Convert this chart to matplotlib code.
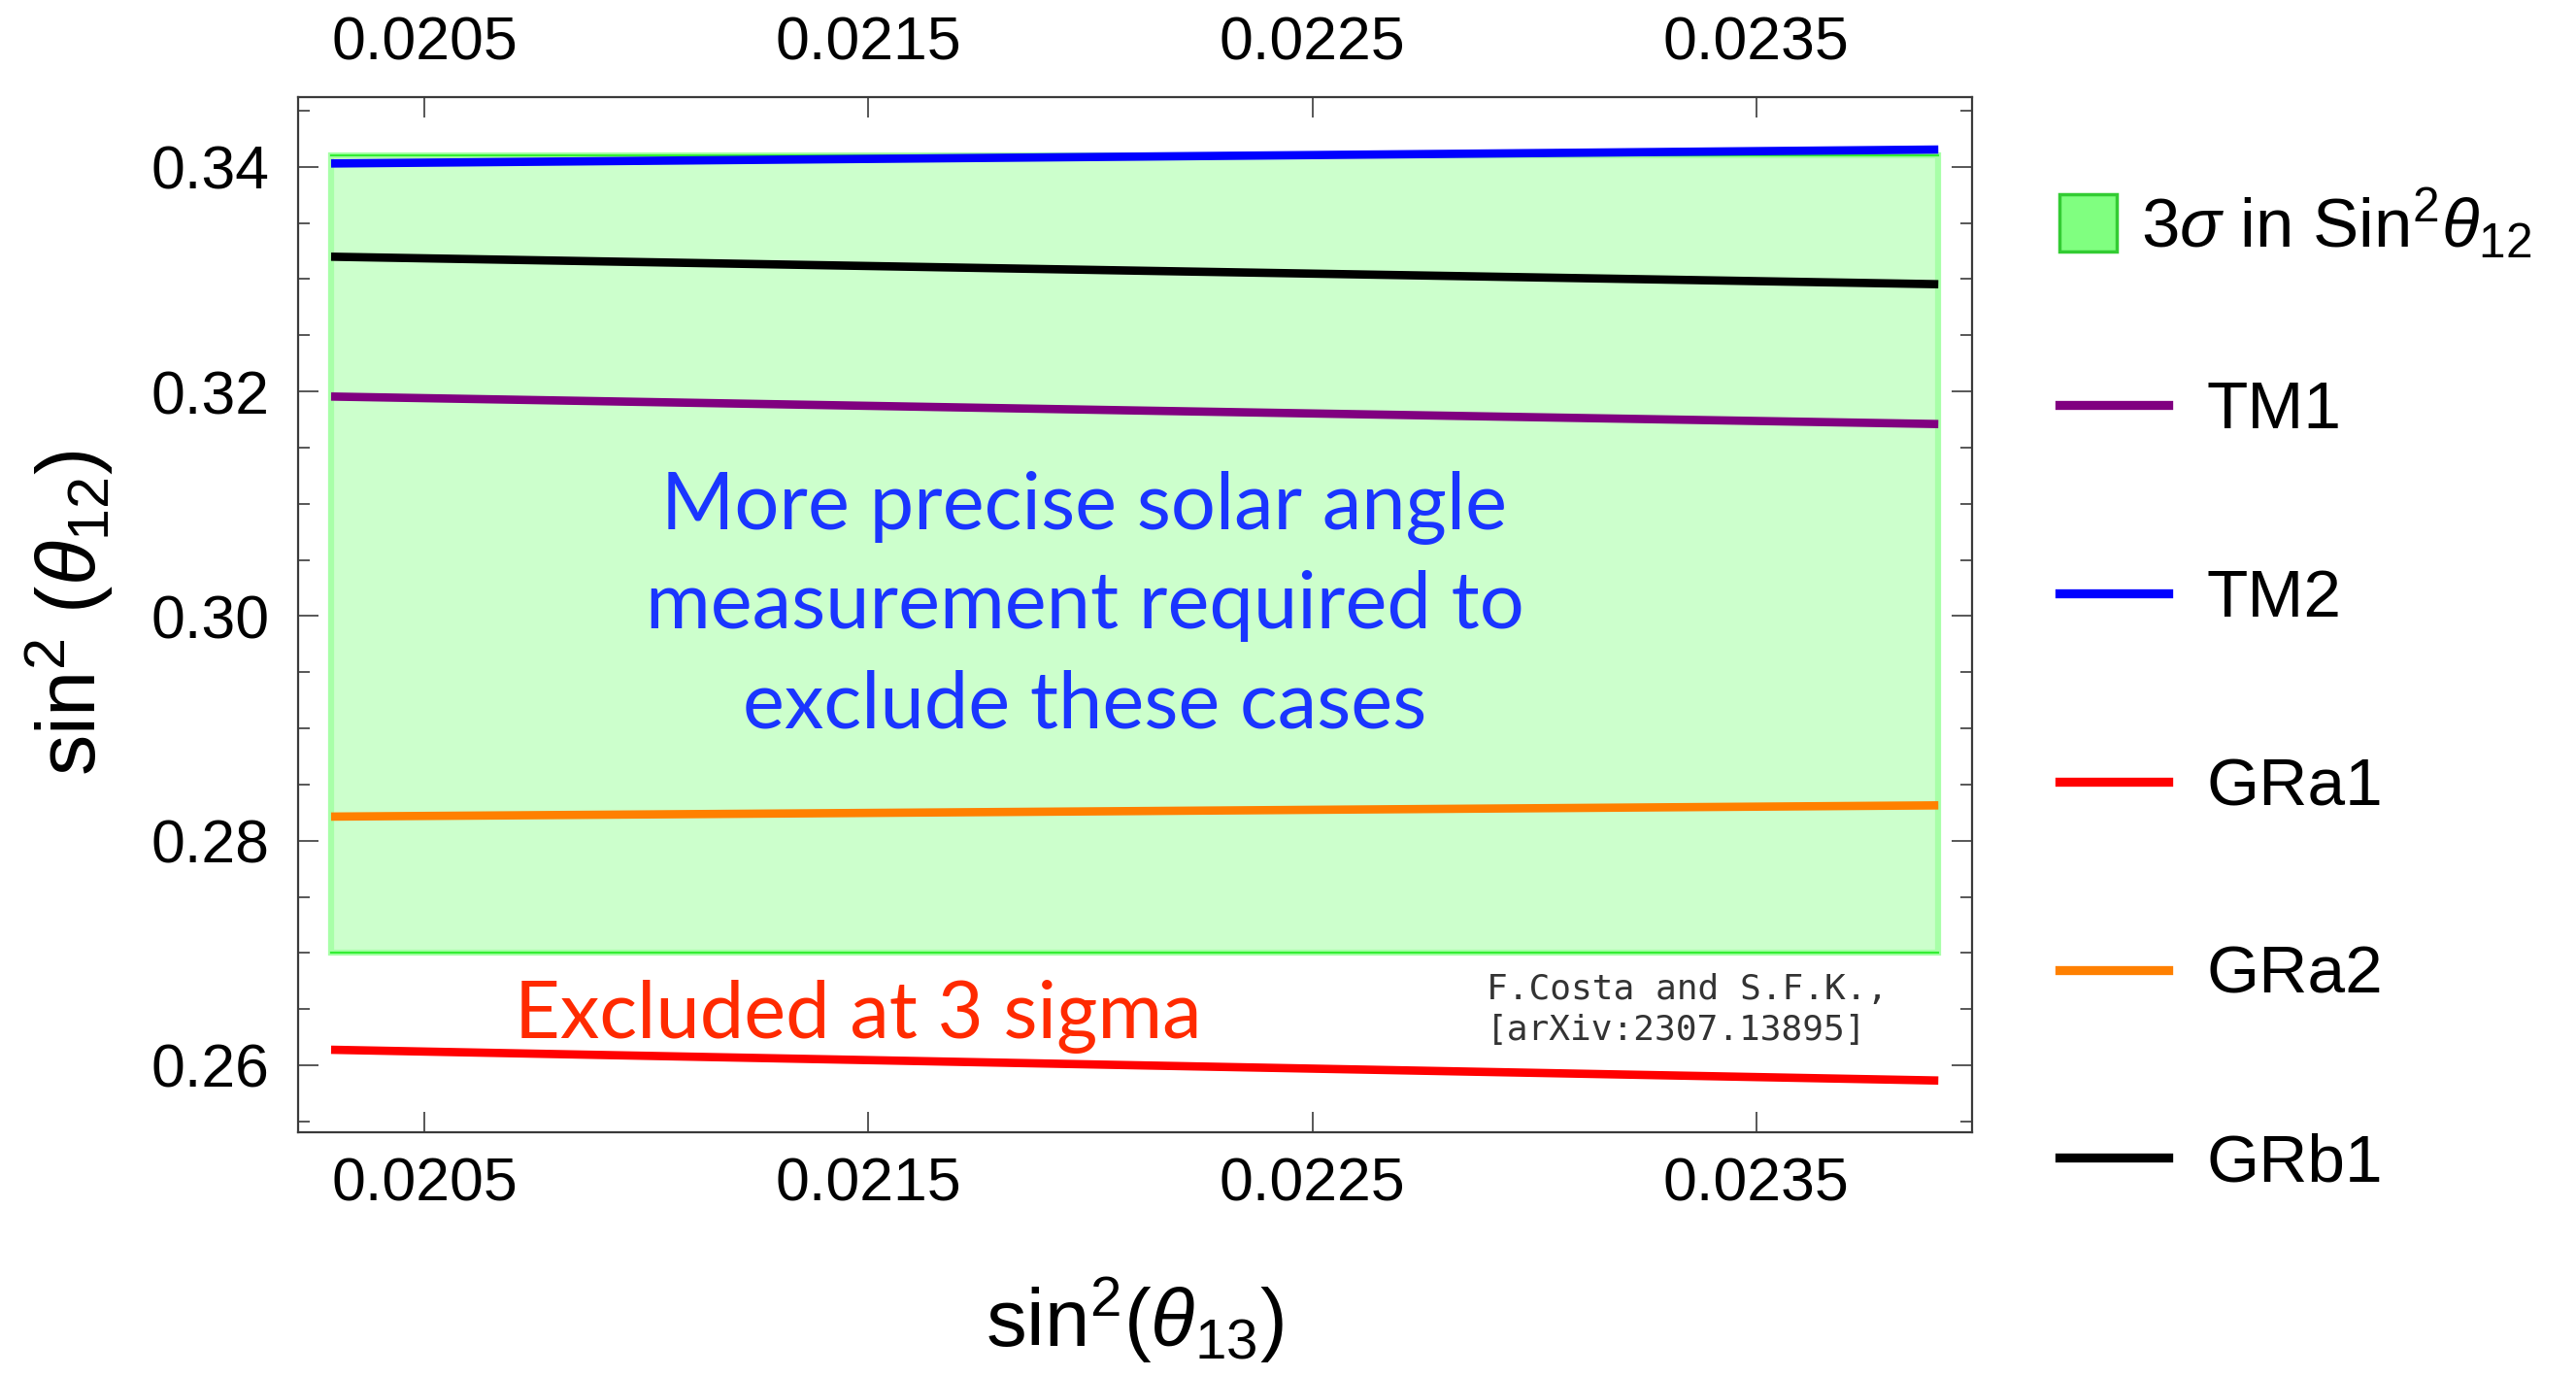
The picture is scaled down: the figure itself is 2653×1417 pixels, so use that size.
import matplotlib
matplotlib.use("Agg")
import matplotlib.pyplot as plt
from matplotlib.patches import Rectangle
from matplotlib.lines import Line2D
from matplotlib.legend_handler import HandlerBase
from matplotlib.ticker import MultipleLocator, FixedLocator
from matplotlib import font_manager as fm

# ---------------- data ----------------
s13 = [0.02029, 0.02210, 0.02391]          # sin^2(theta13) sample points
tm1 = [0.31954, 0.31830, 0.31709]
tm2 = [0.34029, 0.34090, 0.34153]
gra1 = [0.26138, 0.26000, 0.25864]
gra2 = [0.28214, 0.28263, 0.28314]
grb1 = [0.33199, 0.33075, 0.32954]
band_x = [0.02029, 0.02391]                # 3 sigma range in sin^2 theta13
band_lo = [0.270, 0.270]                   # 3 sigma in sin^2 theta12
band_hi = [0.341, 0.341]

series_names = ["TM1", "TM2", "GRa1", "GRa2", "GRb1"]
series_colors = ["#800080", "#0000ff", "#ff0000", "#ff8000", "#000000"]

xtick_vals = [0.0205, 0.0215, 0.0225, 0.0235]
xtick_labels = ["0.0205", "0.0215", "0.0225", "0.0235"]
ytick_vals = [0.26, 0.28, 0.30, 0.32, 0.34]
ytick_labels = ["0.26", "0.28", "0.30", "0.32", "0.34"]

# ---------------- fonts ----------------
names = {f.name for f in fm.fontManager.ttflist}
base = "Liberation Sans"
plt.rcParams["font.family"] = [base, "DejaVu Sans"]
plt.rcParams["mathtext.fontset"] = "custom"
plt.rcParams["mathtext.rm"] = base
plt.rcParams["mathtext.it"] = base + ":italic"
plt.rcParams["mathtext.bf"] = base + ":bold"
if "Liberation Sans Narrow" in names:
    leg_family, leg_fs = "Liberation Sans Narrow", 53
else:
    leg_family, leg_fs = base, 50
ann_family = "Lato" if "Lato" in names else "DejaVu Sans"

W, H = 2653, 1417
fig = plt.figure(figsize=(W / 100, H / 100), dpi=100)
L, R, T, B = 306.7, 2031.0, 100.0, 1165.7
ax = fig.add_axes([L / W, 1 - B / H, (R - L) / W, (B - T) / H])

# ---------------- green band ----------------
ax.add_patch(Rectangle((band_x[0], band_lo[0]), band_x[1] - band_x[0],
                       band_hi[0] - band_lo[0], facecolor="#ccffcc",
                       edgecolor="#a8ffa8", lw=4.5, zorder=1))
ax.plot(band_x, band_lo, color="#33ee33", lw=1.6, zorder=2)
ax.plot(band_x, band_hi, color="#33ee33", lw=1.6, zorder=2)

# ---------------- model lines ----------------
lines = []
for name, col, ys in zip(series_names, series_colors, [tm1, tm2, gra1, gra2, grb1]):
    ln, = ax.plot(s13, ys, color=col, lw=6.2, label=name, zorder=3,
                  solid_capstyle="butt")
    lines.append(ln)

# ---------------- axes ----------------
ax.set_xlim(0.020215, 0.023986)
ax.set_ylim(0.25406, 0.34620)
ax.xaxis.set_major_locator(FixedLocator(xtick_vals))
ax.set_xticklabels(xtick_labels)
ax.yaxis.set_major_locator(FixedLocator(ytick_vals))
ax.set_yticklabels(ytick_labels)
ax.yaxis.set_minor_locator(MultipleLocator(0.005))
ax.tick_params(axis="both", which="both", direction="in", top=True, right=True,
               labeltop=True, labelright=False, colors="#4a4a4a",
               labelcolor="black", labelsize=45)
ax.tick_params(which="major", length=15, width=1.3)
ax.tick_params(which="minor", length=8.6, width=1.3)
ax.tick_params(axis="x", pad=18)
ax.tick_params(axis="y", pad=21)
for sp in ax.spines.values():
    sp.set_color("#3a3a3a")
    sp.set_linewidth(1.6)

ax.set_xlabel(r"sin$^2$($\theta_{13}$)", fontsize=60)
ax.xaxis.label.set_va("center")
ax.xaxis.set_label_coords(0.5, (B - 1360) / (B - T))
ax.set_ylabel(r"sin$^2$ ($\theta_{12}$)", fontsize=61)
ax.yaxis.label.set_va("center")
ax.yaxis.label.set_ha("center")
ax.yaxis.set_label_coords((71 - L) / (R - L), (B - 631) / (B - T))

# ---------------- annotations ----------------
blue_lines = ["More precise solar angle", "measurement required to",
              "exclude these cases"]
blue_y = [0.30772, 0.29890, 0.29008]
for txt, yy in zip(blue_lines, blue_y):
    ax.text(0.021987, yy, txt, color="#1a35ff", fontsize=58.5, family=ann_family,
            ha="center", va="baseline", zorder=5)
ax.text(0.021476, 0.26242, "Excluded at 3 sigma", color="#ff2a00", fontsize=58.5,
        family=ann_family, ha="center", va="baseline", zorder=5)
ax.text(0.022893, 0.26495, "F.Costa and S.F.K.,\n[arXiv:2307.13895]",
        family="DejaVu Sans Mono", fontsize=26, color="#333333",
        ha="left", va="center", linespacing=1.28, zorder=5)

# ---------------- legends ----------------
class SquareHandler(HandlerBase):
    def create_artists(self, legend, orig_handle, xdescent, ydescent,
                       width, height, fontsize, trans):
        side = 42.5
        r = Rectangle((-xdescent, -ydescent + height / 2 - side / 2), side, side,
                      facecolor="#80ff80", edgecolor="#33cc33", lw=2.5,
                      transform=trans)
        return [r]

band_handle = Rectangle((0, 0), 1, 1)
leg1 = ax.legend([band_handle], [r"3$\sigma$ in Sin$^2\theta_{12}$"],
                 handler_map={Rectangle: SquareHandler()},
                 loc="center left", bbox_to_anchor=(2120.7 / W, 1 - 231 / H),
                 bbox_transform=fig.transFigure, frameon=False, borderpad=0,
                 borderaxespad=0, handlelength=42.5 / leg_fs,
                 handletextpad=17 / leg_fs,
                 prop={"family": leg_family, "size": leg_fs + 1})
ax.add_artist(leg1)

leg_handles = [Line2D([], [], color=c, lw=6.7) for c in series_colors]
leg2 = ax.legend(leg_handles, series_names,
                 loc="center left", bbox_to_anchor=(2120.7 / W, 1 - 811 / H),
                 bbox_transform=fig.transFigure, frameon=False, borderpad=0,
                 borderaxespad=0, handlelength=80.6 / leg_fs,
                 handletextpad=28.8 / leg_fs, labelspacing=1.87,
                 prop={"family": leg_family, "size": leg_fs})

fig.savefig("out.png", dpi=100)
